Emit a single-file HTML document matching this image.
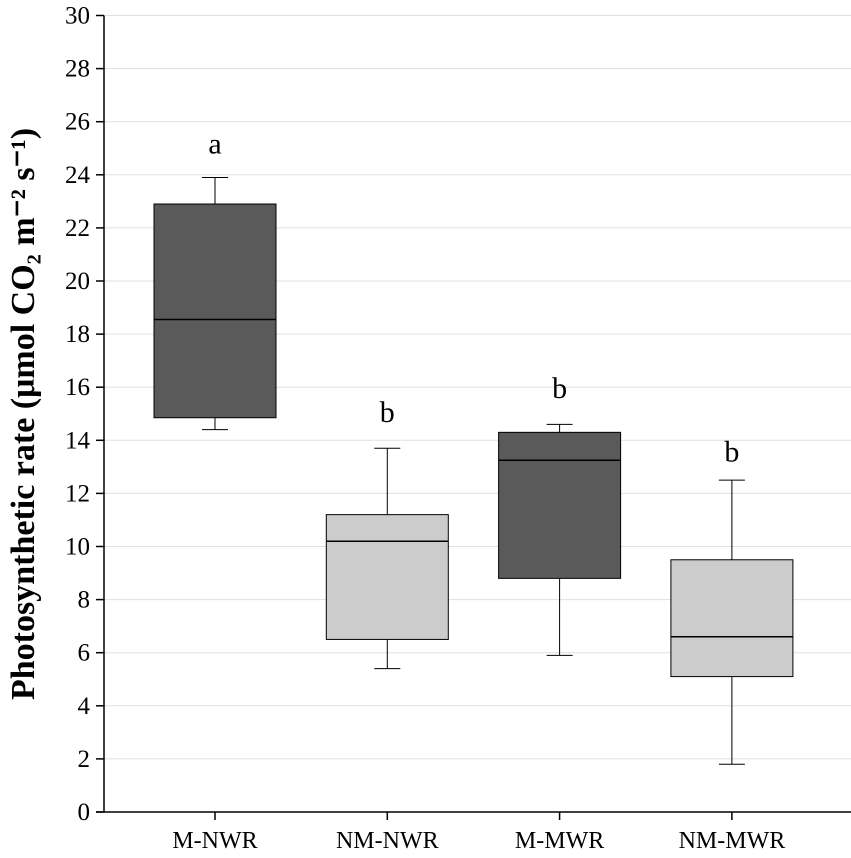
<!DOCTYPE html>
<html><head><meta charset="utf-8"><style>
body{margin:0;background:#fff;}
svg{display:block;font-family:"Liberation Serif",serif;}
</style></head><body>
<svg id="chart" width="851" height="858">
<g id="grid"></g><g id="boxes"></g><g id="axes"></g>
<text transform="translate(34,414) rotate(-90)" text-anchor="middle" font-size="34" font-weight="bold">Photosynthetic rate (μmol CO₂ m⁻² s⁻¹)</text>
</svg>
<script>
const categories=["M-NWR","NM-NWR","M-MWR","NM-MWR"];
const lows=[14.4,5.4,5.9,1.8];
const q1s=[14.85,6.5,8.8,5.1];
const medians=[18.55,10.2,13.25,6.6];
const q3s=[22.9,11.2,14.3,9.5];
const highs=[23.9,13.7,14.6,12.5];
const letters=["a","b","b","b"];
const letterVals=[25.1,15.0,15.9,13.5];
const fills=["#5a5a5a","#cccccc","#5a5a5a","#cccccc"];
const yTicks=[0,2,4,6,8,10,12,14,16,18,20,22,24,26,28,30];
const NS="http://www.w3.org/2000/svg";
const y=v=>812-v*26.55;
const x=i=>215+i*172.3;
function mk(p,t,a){const e=document.createElementNS(NS,t);for(const k in a)e.setAttribute(k,a[k]);p.appendChild(e);return e;}
const G=document.getElementById('grid'),B=document.getElementById('boxes'),A=document.getElementById('axes');
yTicks.forEach(v=>{
 if(v>0){const g=mk(G,'line',{x1:104,x2:851,y1:y(v),y2:y(v),stroke:'#e0e0e0','stroke-width':1});
 }
 const t=mk(A,'line',{x1:96,x2:104,y1:y(v),y2:y(v),stroke:'#000','stroke-width':1.5});
 
 const l=mk(A,'text',{x:90,y:y(v)+8,'text-anchor':'end','font-size':25});l.textContent=v;
 
});
const ax=mk(A,'line',{x1:104,x2:104,y1:y(30),y2:y(0)+0.75,stroke:'#000','stroke-width':1.5});

const bx=mk(A,'line',{x1:96,x2:851,y1:y(0),y2:y(0),stroke:'#000','stroke-width':1.5});

categories.forEach((c,i)=>{
 const cx=x(i),hw=61;
 const t=mk(A,'line',{x1:cx,x2:cx,y1:y(0),y2:y(0)+8,stroke:'#000','stroke-width':1.5});
 
 const l=mk(A,'text',{x:cx,y:848,'text-anchor':'middle','font-size':24});l.textContent=c;
 
 const g=mk(B,'g',{});
 
 const w1=mk(g,'line',{x1:cx,x2:cx,y1:y(highs[i]),y2:y(q3s[i]),stroke:'#000'});
 
 const w2=mk(g,'line',{x1:cx,x2:cx,y1:y(q1s[i]),y2:y(lows[i]),stroke:'#000'});
 
 const c1=mk(g,'line',{x1:cx-13,x2:cx+13,y1:y(highs[i]),y2:y(highs[i]),stroke:'#000'});
 
 const c2=mk(g,'line',{x1:cx-13,x2:cx+13,y1:y(lows[i]),y2:y(lows[i]),stroke:'#000'});
 
 const r=mk(g,'rect',{x:cx-hw,y:y(q3s[i]),width:hw*2,height:y(q1s[i])-y(q3s[i]),fill:fills[i],stroke:'#000'});
 
 const m=mk(g,'line',{x1:cx-hw,x2:cx+hw,y1:y(medians[i]),y2:y(medians[i]),stroke:'#000','stroke-width':1.5});
 
 const s=mk(g,'text',{x:cx,y:y(letterVals[i])+8,'text-anchor':'middle','font-size':30});s.textContent=letters[i];
 
});
</script>
</body></html>
